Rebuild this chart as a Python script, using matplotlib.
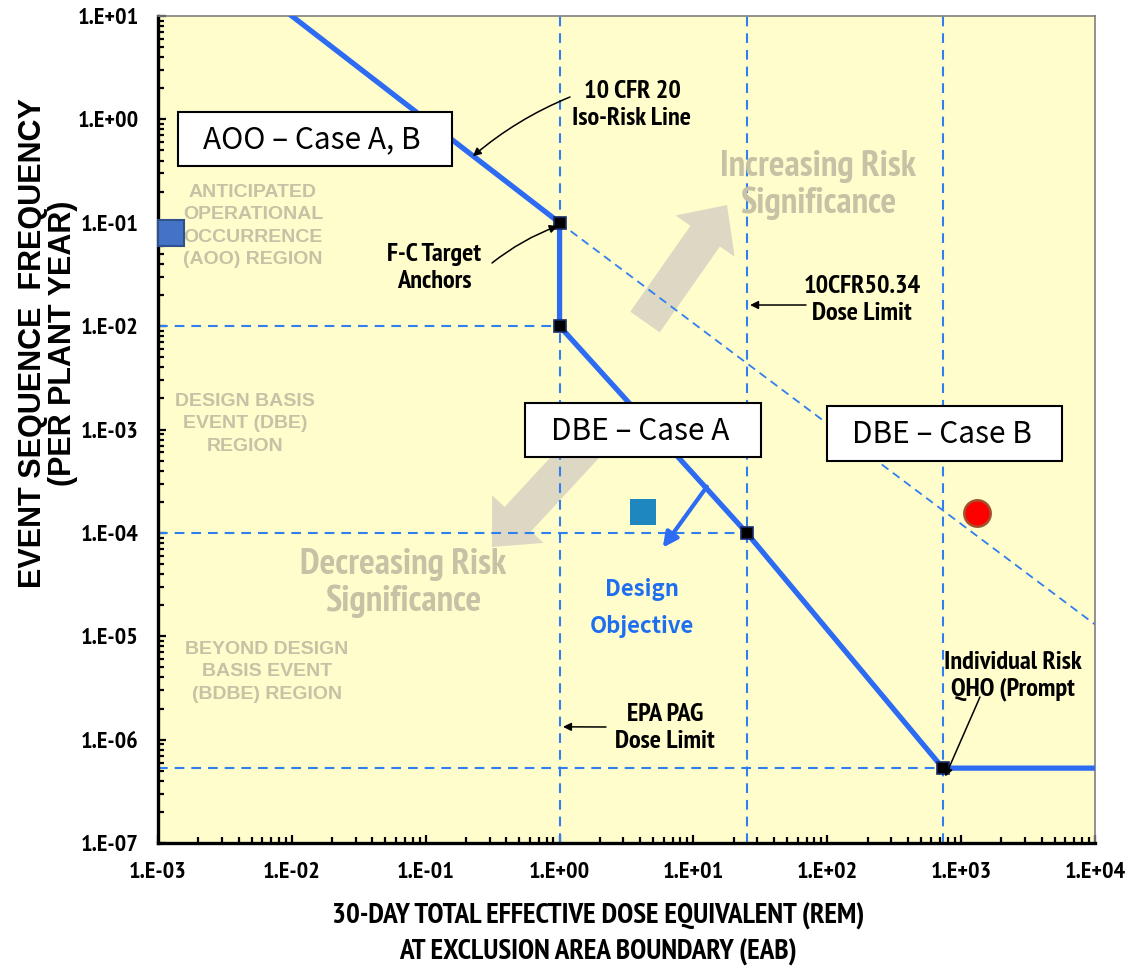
import numpy as np
import matplotlib
matplotlib.use("Agg")
import matplotlib.pyplot as plt
import matplotlib.transforms as mtransforms
from matplotlib.patches import FancyArrow, Rectangle
from matplotlib.ticker import FixedLocator, FuncFormatter, LogLocator, NullFormatter

# ---- data -------------------------------------------------------------
# Frequency-consequence target curve (solid)
fc_dose = [0.01, 1.0, 1.0, 25.0, 730.0, 1.0e4]
fc_freq = [10.0, 0.1, 0.01, 1.0e-4, 5.3e-7, 5.3e-7]

# F-C target anchors
anchor_dose = [1.0, 1.0, 25.0, 730.0]
anchor_freq = [0.1, 0.01, 1.0e-4, 5.3e-7]

# Iso-risk extension beyond the first anchor (dashed)
iso_dose = [1.0, 1.0e4]
iso_freq = [0.1, 1.3e-5]

# Dose limits: EPA PAG, 10CFR50.34, individual risk QHO (prompt)
dose_limits = [1.0, 25.0, 730.0]
# Frequency boundaries and the dose where each one stops
freq_bounds = [1.0e-2, 1.0e-4, 5.3e-7]
freq_bound_ends = [1.0, 25.0, 730.0]

# Evaluated event sequences
aoo_dose, aoo_freq = [1.24e-3], [7.9e-2]
dbe_a_dose, dbe_a_freq = [4.2], [1.6e-4]
dbe_b_dose, dbe_b_freq = [1310.0], [1.56e-4]

# Design objective direction (from the curve toward lower risk)
design_from = (12.6, 2.8e-4)
design_to = (5.9, 7.2e-5)

x_ticks = [1e-3, 1e-2, 1e-1, 1e0, 1e1, 1e2, 1e3, 1e4]
y_ticks = [1e-7, 1e-6, 1e-5, 1e-4, 1e-3, 1e-2, 1e-1, 1e0, 1e1]

# ---- style ------------------------------------------------------------
plt.rcParams["lines.scale_dashes"] = False
NARROW = ["PT Sans Narrow", "Barlow Semi Condensed", "Liberation Sans", "DejaVu Sans"]
WIDE = ["Liberation Sans", "DejaVu Sans"]
BOXFONT = ["Noto Sans CJK KR", "Noto Sans", "DejaVu Sans"]

BLUE = "#2D6CF2"
DASH_BLUE = "#2F7FF0"
BEIGE_TXT = "#C7C1A5"
BEIGE_ARROW = "#DDD8C4"

W, H = 1127, 968
fig = plt.figure(figsize=(W / 100, H / 100), dpi=100)
ax = fig.add_axes([158 / W, 1 - 843 / H, 937 / W, 827 / H])
ax.set_facecolor("#FFFDCC")

# pixel-position transform (origin top-left) for annotations and decorations
pxT = mtransforms.Affine2D().scale(1 / W, -1 / H).translate(0, 1) + fig.transFigure

ax.set_xscale("log")
ax.set_yscale("log")
ax.set_xlim(1e-3, 1e4)
ax.set_ylim(1e-7, 1e1)

fmt = FuncFormatter(lambda v, pos: f"1.E{int(round(np.log10(v))):+03d}")
ax.xaxis.set_major_locator(FixedLocator(x_ticks))
ax.yaxis.set_major_locator(FixedLocator(y_ticks))
ax.xaxis.set_major_formatter(fmt)
ax.yaxis.set_major_formatter(fmt)
ax.xaxis.set_minor_locator(LogLocator(base=10, subs=np.arange(2, 10), numticks=20))
ax.yaxis.set_minor_locator(LogLocator(base=10, subs=np.arange(2, 10), numticks=20))
ax.xaxis.set_minor_formatter(NullFormatter())
ax.yaxis.set_minor_formatter(NullFormatter())
ax.tick_params(which="both", direction="in", top=False, right=False, color="black")
ax.tick_params(which="major", length=6, width=1.6)
ax.tick_params(which="minor", length=4, width=1.6)
ax.tick_params(axis="x", which="major", pad=14)
ax.tick_params(axis="y", which="major", pad=14)
for lab in ax.get_xticklabels() + ax.get_yticklabels():
    lab.set_fontfamily(NARROW)
    lab.set_fontweight("bold")
    lab.set_fontsize(17.5)

for side in ("left", "bottom"):
    ax.spines[side].set_linewidth(2.4)
    ax.spines[side].set_color("black")
for side in ("top", "right"):
    ax.spines[side].set_linewidth(1.2)
    ax.spines[side].set_color("#7F7F7F")

# ---- big beige direction arrows (behind everything) -------------------
ax.add_patch(FancyArrow(645, 322, 82, -117, width=36, head_width=72, head_length=38,
                        length_includes_head=True, transform=pxT, color=BEIGE_ARROW,
                        lw=0, zorder=1))
ax.add_patch(FancyArrow(605, 425, -113, 122, width=36, head_width=70, head_length=38,
                        length_includes_head=True, transform=pxT, color=BEIGE_ARROW,
                        lw=0, zorder=1))

# ---- reference lines --------------------------------------------------
for xv in dose_limits:
    ax.axvline(xv, color=DASH_BLUE, lw=1.5, dashes=(7, 5), zorder=2)
for yv, xe in zip(freq_bounds, freq_bound_ends):
    ax.plot([1e-3, xe], [yv, yv], color=DASH_BLUE, lw=1.5, dashes=(7, 5), zorder=2)
ax.plot(iso_dose, iso_freq, color=DASH_BLUE, lw=1.3, dashes=(6, 4), zorder=2)

# ---- F-C curve and anchors -------------------------------------------
ax.plot(fc_dose, fc_freq, color=BLUE, lw=3.8, solid_joinstyle="miter", zorder=3)
ax.plot(anchor_dose, anchor_freq, ls="none", marker="s", ms=8, mfc="black",
        mec="#1B2B6B", mew=1.2, zorder=4)

# ---- event sequences --------------------------------------------------
ax.plot(aoo_dose, aoo_freq, ls="none", marker="s", ms=19, mfc="#4472C4",
        mec="#2F528F", mew=1.5, zorder=5, clip_on=False)
ax.plot(dbe_a_dose, dbe_a_freq, ls="none", marker="s", ms=18.5, mfc="#1F87BF",
        mec="#1F87BF", mew=0, zorder=5)
ax.plot(dbe_b_dose, dbe_b_freq, ls="none", marker="o", ms=19, mfc="#FF0000",
        mec="#A0522D", mew=1.8, zorder=5)

# ---- design objective arrow ------------------------------------------
ax.annotate("", xy=design_to, xytext=design_from,
            arrowprops=dict(arrowstyle="-|>", color=BLUE, lw=3, mutation_scale=22,
                            shrinkA=0, shrinkB=0), zorder=5)
ax.text(642, 608, "Design\nObjective", transform=pxT, ha="center", va="center",
        color="#1E6EF0", fontsize=16, fontweight="bold", family=BOXFONT,
        linespacing=1.75, zorder=5)

# ---- region labels ----------------------------------------------------
region_kw = dict(transform=pxT, ha="center", va="center", color=BEIGE_TXT,
                 fontsize=14, fontweight="bold", family=WIDE, linespacing=1.42, zorder=2)
ax.text(253, 226, "ANTICIPATED\nOPERATIONAL\nOCCURRENCE\n(AOO) REGION", **region_kw)
ax.text(245, 424, "DESIGN BASIS\nEVENT (DBE)\nREGION", **region_kw)
ax.text(267, 672, "BEYOND DESIGN\nBASIS EVENT\n(BDBE) REGION", **region_kw)

big_kw = dict(transform=pxT, ha="center", va="center", color=BEIGE_TXT,
              fontsize=26.5, fontweight="bold", family=NARROW, linespacing=1.1, zorder=2)
ax.text(818, 185, "Increasing Risk\nSignificance", **big_kw)
ax.text(403, 583, "Decreasing Risk\nSignificance", **big_kw)

# ---- black callouts ---------------------------------------------------
call_kw = dict(ha="center", va="center", color="black", fontsize=19,
               fontweight="bold", family=NARROW, linespacing=1.2, zorder=5)
arrow_kw = dict(arrowstyle="-|>", color="black", lw=1.1, mutation_scale=12,
                shrinkA=0, shrinkB=0)

ax.text(632, 105, "10 CFR 20\nIso-Risk Line", transform=pxT, **call_kw)
ax.annotate("", xy=(0.225, 0.44), xycoords="data", xytext=(570, 97), textcoords=pxT,
            arrowprops=dict(connectionstyle="arc3,rad=0.08", **arrow_kw), zorder=5)

ax.text(434, 268, "F-C Target\nAnchors", transform=pxT, **call_kw)
ax.annotate("", xy=(0.97, 0.093), xycoords="data", xytext=(492, 263), textcoords=pxT,
            arrowprops=dict(connectionstyle="arc3,rad=-0.08", **arrow_kw), zorder=5)

ax.text(862, 300, "10CFR50.34\nDose Limit", transform=pxT, **call_kw)
ax.annotate("", xy=(26.5, 1.6e-2), xycoords="data", xytext=(806, 305), textcoords=pxT,
            arrowprops=arrow_kw, zorder=5)

ax.text(665, 728, "EPA PAG\nDose Limit", transform=pxT, **call_kw)
ax.annotate("", xy=(1.06, 1.33e-6), xycoords="data", xytext=(606, 727), textcoords=pxT,
            arrowprops=arrow_kw, zorder=5)

ax.text(1013, 676, "Individual Risk\nQHO (Prompt", transform=pxT, **call_kw)
ax.annotate("", xy=(760, 4.4e-7), xycoords="data", xytext=(980, 697), textcoords=pxT,
            arrowprops=arrow_kw, zorder=5)

# ---- case boxes -------------------------------------------------------
def case_box(x0, y0, x1, y1, label):
    ax.add_patch(Rectangle((x0, y0), x1 - x0, y1 - y0, transform=pxT, facecolor="white",
                           edgecolor="black", lw=1.5, zorder=6, clip_on=False))
    ax.text((x0 + x1) / 2 - 3, (y0 + y1) / 2 + 1, label, transform=pxT, ha="center",
            va="center", fontsize=21.5, family=BOXFONT, color="black", zorder=7)

case_box(178, 112, 452, 166, "AOO – Case A, B")
case_box(525, 403, 761, 457, "DBE – Case A")
case_box(827, 406, 1062, 461, "DBE – Case B")

# ---- axis titles ------------------------------------------------------
fig.text(33 / W, 1 - 343 / H, "EVENT SEQUENCE  FREQUENCY", rotation=90,
         ha="center", va="center", fontsize=22, fontweight="bold", family=WIDE)
fig.text(63 / W, 1 - 343 / H, "(PER PLANT YEAR)", rotation=90,
         ha="center", va="center", fontsize=22, fontweight="bold", family=WIDE)
fig.text(598 / W, 1 - 916 / H, "30-DAY TOTAL EFFECTIVE DOSE EQUIVALENT (REM)",
         ha="center", va="center", fontsize=21, fontweight="bold", family=NARROW)
fig.text(598 / W, 1 - 952 / H, "AT EXCLUSION AREA BOUNDARY (EAB)",
         ha="center", va="center", fontsize=21, fontweight="bold", family=NARROW)

fig.savefig("out.png", dpi=100, facecolor="white")
